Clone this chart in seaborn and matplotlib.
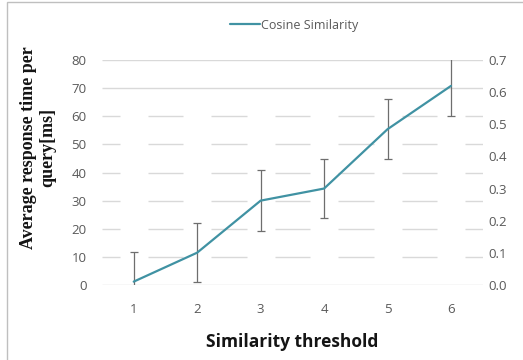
import matplotlib
matplotlib.use("Agg")
import matplotlib.pyplot as plt
import seaborn as sns
import pandas as pd
from matplotlib.patches import Rectangle

# datos
thresholds = [1, 2, 3, 4, 5, 6]
response_ms = [1.2, 11.5, 30.0, 34.3, 55.4, 70.8]
error_ms = [10.7, 10.5, 10.8, 10.5, 10.7, 10.7]
left_ticks = [0, 10, 20, 30, 40, 50, 60, 70, 80]
right_ticks = [0.0, 0.1, 0.2, 0.3, 0.4, 0.5, 0.6, 0.7]
series_name = "Cosine Similarity"

df = pd.DataFrame({"threshold": thresholds, "ms": response_ms})

sns.set_style("white")
plt.rcParams["font.family"] = ["Open Sans", "DejaVu Sans"]

fig = plt.figure(figsize=(5.23, 3.6), dpi=100)
ax = fig.add_axes([0.195, 0.2083, 0.728, 0.625])

line_color = "#4092A3"
grid_color = "#D9D9D9"
tick_color = "#595959"

ax.set_xlim(0.5, 6.5)
ax.set_ylim(0, 80)

# rejilla: sólida en 0, 70, 80 y discontinua en el resto
for t in left_ticks:
    if t in (0, 70, 80):
        ax.hlines(t, 0.5, 6.5, color=grid_color, lw=1.0, zorder=0)
    else:
        for k in range(0, 7):
            x0 = max(k + 0.22, 0.5)
            x1 = min(k + 0.78, 6.5)
            ax.hlines(t, x0, x1, color=grid_color, lw=1.0, zorder=0)

ax.errorbar(thresholds, response_ms, yerr=error_ms, fmt="none",
            ecolor="#6E6E6E", elinewidth=0.9, capsize=3, capthick=0.9, zorder=2)
sns.lineplot(data=df, x="threshold", y="ms", ax=ax, color=line_color,
             linewidth=1.6, label=series_name, zorder=3)

ax.set_xticks(thresholds)
ax.set_yticks(left_ticks)
ax.tick_params(axis="both", length=0, labelsize=9.5, labelcolor=tick_color)
ax.tick_params(axis="y", pad=11)
ax.tick_params(axis="x", pad=13)
for s in ax.spines.values():
    s.set_visible(False)

ax.set_xlabel("Similarity threshold", fontsize=12.5, fontweight="bold",
              color="#141414", labelpad=12)
ax.set_ylabel("Average response time per\nquery[ms]", fontsize=13,
              fontweight="bold", family="Liberation Serif", color="#141414")
ax.yaxis.set_label_coords(-0.12, 0.61)

ax2 = ax.twinx()
ax2.set_ylim(0, 0.7)
ax2.set_yticks(right_ticks)
ax2.set_yticklabels([f"{v:.1f}" for v in right_ticks])
ax2.tick_params(axis="y", length=0, labelsize=9.5, labelcolor=tick_color, pad=4)
for s in ax2.spines.values():
    s.set_visible(False)

leg = ax.legend(loc="center", bbox_to_anchor=(0.505, 1.155), frameon=False,
                fontsize=9, handlelength=2.4, handletextpad=0.1)
for txt in leg.get_texts():
    txt.set_color(tick_color)

# borde gris (izquierda y arriba)
fig.patches.append(Rectangle((0.0134, -0.02), 1.05, 1.0144, transform=fig.transFigure,
                             fill=False, edgecolor="#BFBFBF", lw=1.0))

fig.savefig("out.png", dpi=100)
